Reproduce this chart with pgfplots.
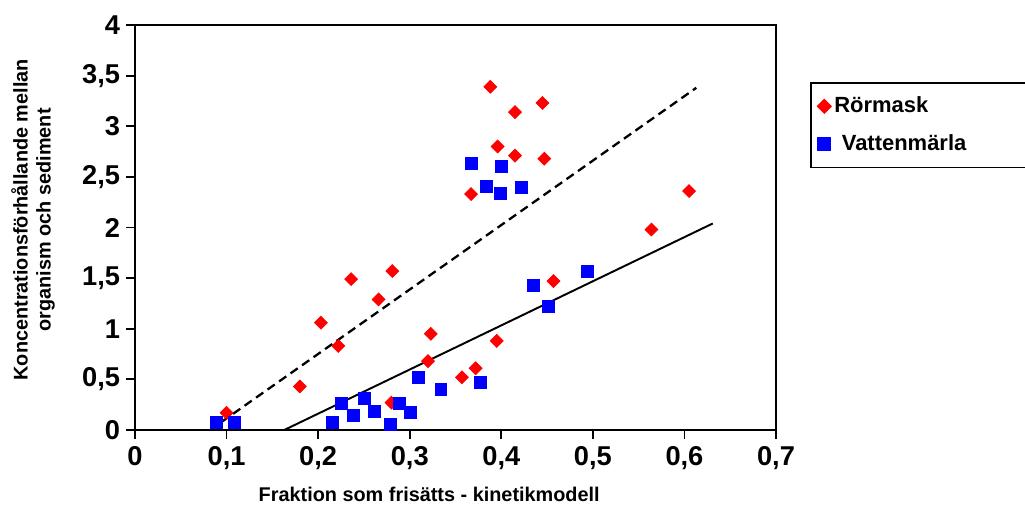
\documentclass[border=0pt]{standalone}
\usepackage{fontspec}
\setmainfont{Liberation Sans}
\usepackage{pgfplots}
\pgfplotsset{compat=1.18}

\definecolor{rmred}{RGB}{255,0,0}
\definecolor{vmblue}{RGB}{0,0,255}

\begin{document}
\begin{tikzpicture}
\useasboundingbox (0,0) rectangle (20.5cm,10.14cm);
\begin{axis}[
    at={(2.70cm,1.54cm)}, anchor=south west,
    scale only axis,
    width=12.82cm, height=8.10cm,
    xmin=0, xmax=0.7, ymin=0, ymax=4,
    xtick={0,0.1,...,0.7},
    ytick={0,0.5,...,4},
    xtick pos=left, ytick pos=left,
    tick align=outside,
    major tick length=5pt,
    every tick/.style={black, line width=1pt},
    axis line style={line width=1.1pt},
    /pgf/number format/assume math mode=true,
    /pgf/number format/use comma,
    ticklabel style={font=\fontsize{15.5}{17}\selectfont\bfseries},
    xticklabel style={yshift=-1pt},
    clip=false,
    xlabel={Fraktion som frisätts - kinetikmodell},
    xlabel style={font=\fontsize{11.3}{13}\selectfont\bfseries,
        at={(axis description cs:0.459,-0.160)}, anchor=center},
    ylabel={Koncentrationsförhållande mellan\\organism och sediment},
    ylabel style={font=\fontsize{11.3}{13}\selectfont\bfseries, align=center,
        at={(axis description cs:-0.159,0.519)}, anchor=center, rotate=0},
    legend style={at={(axis description cs:1.053,0.859)}, anchor=north west,
        draw=black, line width=1pt, inner xsep=4pt, inner ysep=6pt,
        row sep=7pt,
        font=\fontsize{12.5}{14}\selectfont\bfseries},
    legend cell align=left,
]
% Rörmask
\addplot[only marks, mark=square*, mark size=2.6pt,
    mark options={rotate=45, fill=rmred, draw=rmred}] coordinates {
(0.100,0.17) (0.180,0.43) (0.203,1.06) (0.222,0.83) (0.236,1.49)
(0.266,1.29) (0.281,1.57) (0.280,0.27) (0.323,0.95) (0.320,0.68)
(0.357,0.52) (0.372,0.61) (0.395,0.88) (0.367,2.33) (0.388,3.39)
(0.396,2.80) (0.415,3.14) (0.415,2.71) (0.445,3.23) (0.447,2.68)
(0.457,1.47) (0.564,1.98) (0.605,2.36)
};
\addlegendentry{\makebox[4.2cm][l]{Rörmask}}
% Vattenmärla
\addplot[only marks, mark=square*, mark size=3.4pt,
    mark options={fill=vmblue, draw=vmblue}] coordinates {
(0.089,0.08) (0.108,0.08) (0.215,0.08) (0.225,0.26) (0.238,0.14)
(0.250,0.31) (0.261,0.18) (0.279,0.06) (0.289,0.26) (0.301,0.17)
(0.309,0.52) (0.334,0.40) (0.377,0.47) (0.435,1.43) (0.451,1.22)
(0.494,1.57) (0.367,2.63) (0.400,2.60) (0.384,2.41) (0.399,2.34)
(0.422,2.40)
};
\addlegendentry{\makebox[4.2cm][l]{\hspace{0.15cm}Vattenmärla}}
% trend lines
\addplot[black, line width=1.3pt, dash pattern=on 5pt off 3pt, forget plot]
    coordinates {(0.082,0) (0.613,3.38)};
\addplot[black, line width=1.1pt, forget plot]
    coordinates {(0.163,0) (0.631,2.04)};
\end{axis}
\end{tikzpicture}
\end{document}
